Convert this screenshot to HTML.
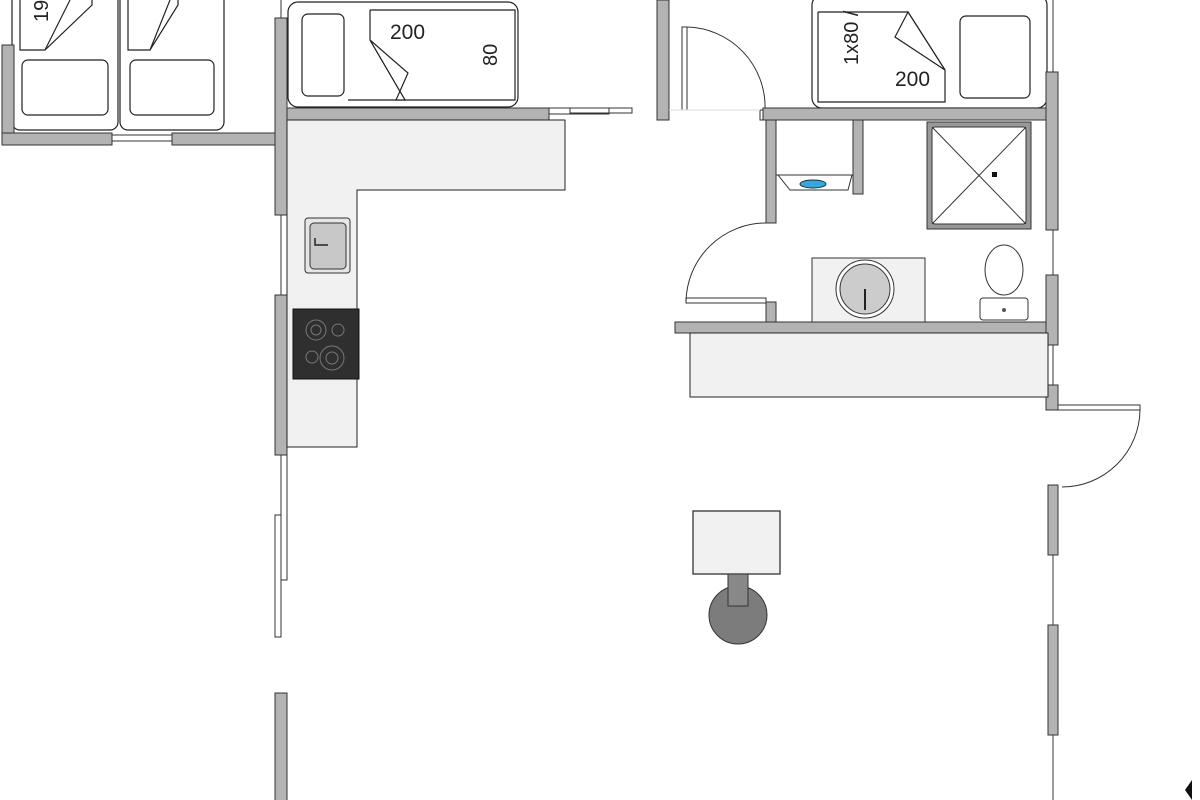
<!DOCTYPE html>
<html><head><meta charset="utf-8"><style>html,body{margin:0;padding:0;background:#fff}svg{display:block}</style></head>
<body>
<svg width="1200" height="800" viewBox="0 0 1200 800" xmlns="http://www.w3.org/2000/svg" font-family="Liberation Sans, sans-serif">
<g stroke="#222" stroke-width="1.2">
<!-- left beds -->
<rect x="12" y="-10" width="106" height="140" rx="8" fill="#fff"/>
<rect x="120" y="-10" width="104" height="140" rx="8" fill="#fff"/>
<rect x="22" y="60" width="86" height="55" rx="6" fill="#fff"/>
<rect x="130" y="60" width="84" height="55" rx="6" fill="#fff"/>
<polyline points="20,0 20,50 45,50 92,5 92,-5" fill="none"/>
<polyline points="128,0 128,50 150,50 178,5 178,-5" fill="none"/>
<line x1="45" y1="50" x2="70" y2="0"/><line x1="150" y1="50" x2="170" y2="0"/>
</g>
<text x="48" y="22" font-size="20" transform="rotate(-90 48 22)" fill="#222">19</text>
<!-- left walls -->
<g fill="#b3b3b3" stroke="#333" stroke-width="1">
<rect x="2" y="45" width="12" height="100"/>
<rect x="2" y="133" width="110" height="12"/>
<rect x="172" y="133" width="103" height="12"/>
<rect x="275" y="18" width="12" height="197"/>
<rect x="287" y="108" width="262" height="12"/>
<rect x="275" y="295" width="12" height="160"/>
<rect x="275" y="693" width="12" height="110"/>
</g>
<g fill="none" stroke="#333" stroke-width="1">
<rect x="112" y="135" width="60" height="6"/>
<line x1="281" y1="215" x2="281" y2="295"/>
<rect x="281" y="455" width="6" height="125"/>
<rect x="275" y="515" width="6" height="122"/>
<line x1="281" y1="0" x2="281" y2="18"/>
<rect x="549" y="108" width="60" height="6"/>
<rect x="570" y="108" width="62" height="5"/>
</g>
<!-- bed middle -->
<g stroke="#222" stroke-width="1.2" fill="#fff">
<rect x="288" y="2" width="230" height="105" rx="10"/>
<rect x="302" y="14" width="42" height="82" rx="6"/>
<polyline points="370,10 515,10 515,100 348,100" fill="none"/>
<polyline points="370,10 370,40 405,100"/>
<polygon points="370,40 408,73 396,100 405,100"/>
</g>
<text x="390" y="39" font-size="21" fill="#222">200</text>
<text x="497" y="66" font-size="20" transform="rotate(-90 497 66)" fill="#222">80</text>
<!-- kitchen counter -->
<path d="M287,120 H565 V190 H357 V447 H287 Z" fill="#f1f1f1" stroke="#222" stroke-width="1"/>
<rect x="305" y="218" width="45" height="55" rx="3" fill="#e6e6e6" stroke="#333"/>
<rect x="310" y="223" width="36" height="46" rx="4" fill="#c8c8c8" stroke="#333"/>
<path d="M315,238 V245 H328" stroke="#222" fill="none" stroke-width="1.5"/>
<rect x="293" y="309" width="66" height="70" fill="#2f2f2f" stroke="#111"/>
<g fill="none" stroke="#777"><circle cx="316" cy="330" r="10"/><circle cx="316" cy="330" r="5"/><circle cx="338" cy="330" r="6"/><circle cx="312" cy="357" r="6"/><circle cx="332" cy="358" r="12"/><circle cx="332" cy="358" r="6"/></g>
<!-- middle wall and door -->
<g fill="#b3b3b3" stroke="#333"><rect x="657" y="0" width="12" height="120"/></g>
<g fill="none" stroke="#333"><rect x="682" y="27" width="5" height="83"/><path d="M687,27 A80,80 0 0 1 765,110"/><rect x="760" y="110" width="6" height="10"/></g>
<line x1="669" y1="110" x2="760" y2="110" stroke="#ddd"/>
<!-- bed right -->
<g stroke="#222" stroke-width="1.2" fill="#fff">
<rect x="812" y="-5" width="235" height="113" rx="10"/>
<rect x="960" y="16" width="70" height="82" rx="6"/>
<polyline points="818,12 908,12 945,70 945,102 818,102 818,12" fill="none"/>
<polygon points="908,12 895,37 945,70"/>
</g>
<text x="858" y="65" font-size="20" transform="rotate(-90 858 65)" fill="#222">1x80 /</text>
<text x="895" y="86" font-size="21" fill="#222">200</text>
<!-- bathroom walls -->
<g fill="#b3b3b3" stroke="#333">
<rect x="763" y="108" width="290" height="12"/>
<rect x="766" y="120" width="10" height="103"/>
<rect x="853" y="120" width="10" height="74"/>
<rect x="766" y="302" width="10" height="22"/>
<rect x="675" y="322" width="378" height="11"/>
<rect x="1046" y="72" width="12" height="158"/>
<rect x="1046" y="275" width="12" height="70"/>
<rect x="1046" y="385" width="12" height="25"/>
<rect x="1048" y="485" width="10" height="70"/>
<rect x="1048" y="625" width="10" height="110"/>
<rect x="927" y="122" width="104" height="107" fill="#999"/>
</g>
<g fill="none" stroke="#333">
<line x1="1053" y1="0" x2="1053" y2="72"/><line x1="1053" y1="230" x2="1053" y2="275"/><line x1="1053" y1="345" x2="1053" y2="385"/>
<line x1="1053" y1="555" x2="1053" y2="625"/><line x1="1053" y1="735" x2="1053" y2="800"/>
<path d="M766,223 A80,80 0 0 0 686,302"/><rect x="686" y="298" width="80" height="5"/>
<rect x="1058" y="405" width="82" height="5"/><path d="M1140,410 A78,78 0 0 1 1062,487"/>
</g>
<rect x="932" y="127" width="94" height="97" rx="3" fill="#fff" stroke="#333"/>
<line x1="932" y1="127" x2="1026" y2="224" stroke="#333"/><line x1="1026" y1="127" x2="932" y2="224" stroke="#333"/>
<rect x="992" y="172" width="5" height="5" fill="#111"/>
<rect x="776" y="120" width="77" height="55" fill="#fff" stroke="#333"/>
<path d="M778,175 H852 L848,190 H790 Z" fill="#fff" stroke="#333"/>
<ellipse cx="813" cy="184" rx="13" ry="4" fill="#39a7d8" stroke="#134"/>
<rect x="812" y="258" width="113" height="64" fill="#f1f1f1" stroke="#333"/>
<circle cx="865" cy="289" r="29" fill="#fff" stroke="#333"/><circle cx="865" cy="289" r="25" fill="#ccc" stroke="#333"/>
<line x1="865" y1="289" x2="865" y2="310" stroke="#222" stroke-width="2"/>
<ellipse cx="1004" cy="270" rx="19" ry="25" fill="#fff" stroke="#333"/>
<rect x="980" y="298" width="48" height="22" rx="3" fill="#fff" stroke="#333"/><circle cx="1004" cy="310" r="2" fill="#555"/>
<rect x="690" y="333" width="358" height="64" fill="#f1f1f1" stroke="#222"/>
<!-- table chair -->
<rect x="693" y="511" width="87" height="63" fill="#f1f1f1" stroke="#333" stroke-width="1.3"/>
<ellipse cx="738" cy="615" rx="29" ry="29" fill="#7c7c7c" stroke="#333"/>
<rect x="728" y="574" width="20" height="32" fill="#888" stroke="#333"/>
<path d="M1185,790 L1192,780 L1192,800 Z" fill="#111"/>
</svg>
</body></html>
